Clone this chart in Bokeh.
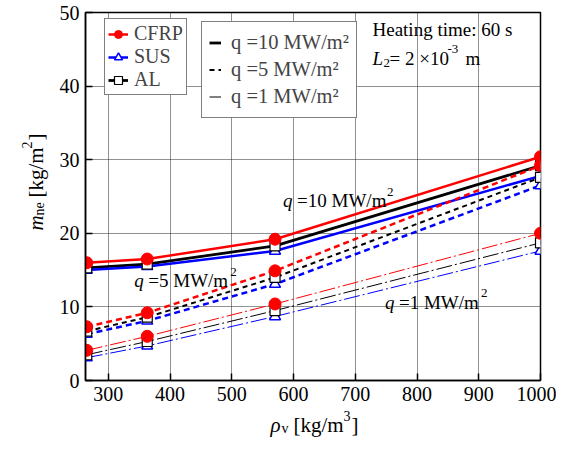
from math import pi
from bokeh.plotting import figure
from bokeh.layouts import row, column
from bokeh.models import Range1d, FixedTicker, Label, Legend, LegendItem
from bokeh.embed import file_html
from bokeh.resources import INLINE

# ---- data ----
rho_v = [265, 363, 570, 1000]
cfrp_q10 = [16.0, 16.5, 19.2, 30.4]
al_q10 = [15.3, 15.8, 18.3, 29.2]
sus_q10 = [15.0, 15.5, 17.6, 27.8]
cfrp_q5 = [7.3, 9.2, 14.9, 29.2]
al_q5 = [6.7, 8.6, 14.0, 27.6]
sus_q5 = [6.3, 8.1, 13.1, 26.5]
cfrp_q1 = [4.1, 6.0, 10.4, 20.0]
al_q1 = [3.5, 5.3, 9.5, 18.7]
sus_q1 = [3.1, 4.7, 8.7, 17.6]
x_ticks = [300, 400, 500, 600, 700, 800, 900, 1000]
y_ticks = [0, 10, 20, 30, 40, 50]

FONT = "Liberation Serif"
RED, BLUE, BLACK = "#ff0000", "#0000ff", "#000000"

MAIN_H = 410
YLAB_W = 54
p = figure(width=556 - YLAB_W, height=MAIN_H, output_backend="svg", toolbar_location=None,
           x_range=Range1d(263, 1000), y_range=Range1d(0, 50),
           min_border_left=85 - YLAB_W, min_border_right=16, min_border_top=12, min_border_bottom=30)

p.outline_line_color = "black"
p.outline_line_width = 1.5
for ax in (p.xaxis[0], p.yaxis[0]):
    ax.axis_line_width = 1.5
    ax.major_tick_in = 7
    ax.major_tick_out = 0
    ax.minor_tick_line_color = None
    ax.major_label_text_font = FONT
    ax.major_label_text_font_size = "20px"
    ax.major_label_text_color = "black"
    ax.major_label_standoff = 6
    ax.major_tick_line_width = 1.5
p.xaxis.ticker = FixedTicker(ticks=x_ticks)
p.yaxis.ticker = FixedTicker(ticks=y_ticks)
for g in (p.xgrid[0], p.ygrid[0]):
    g.grid_line_color = "#222222"
    g.grid_line_dash = "1 1"
    g.grid_line_width = 1
p.xgrid.ticker = FixedTicker(ticks=x_ticks)
p.ygrid.ticker = FixedTicker(ticks=y_ticks)

series = [
    ("q10", RED, cfrp_q10, "solid", 2.5), ("q10", BLACK, al_q10, "solid", 2.8), ("q10", BLUE, sus_q10, "solid", 2.5),
    ("q5", RED, cfrp_q5, "6 4", 2.5), ("q5", BLACK, al_q5, "5 4", 2.0), ("q5", BLUE, sus_q5, "6 4", 2.5),
    ("q1", RED, cfrp_q1, "16 3 2 3", 1.0), ("q1", BLACK, al_q1, "16 3 2 3", 1.0), ("q1", BLUE, sus_q1, "16 3 2 3", 1.0),
]
lines = {}
for q, col, ys, dash, w in series:
    lines[(q, col)] = p.line(rho_v, ys, line_color=col, line_dash=dash, line_width=w)

markers = {}
for ys in (sus_q10, sus_q5, sus_q1):
    markers[BLUE] = p.scatter(rho_v, ys, marker="triangle", size=11, fill_color="white",
                              line_color=BLUE, line_width=1.5)
for ys in (al_q10, al_q5, al_q1):
    markers[BLACK] = p.scatter(rho_v, ys, marker="square", size=10, fill_color="white",
                               line_color=BLACK, line_width=1.2)
for ys in (cfrp_q10, cfrp_q5, cfrp_q1):
    markers[RED] = p.scatter(rho_v, ys, marker="circle", size=12, fill_color=RED,
                             line_color=RED, line_width=1)

leg1 = Legend(items=[
    LegendItem(label="CFRP", renderers=[lines[("q10", RED)], markers[RED]]),
    LegendItem(label="SUS", renderers=[lines[("q10", BLUE)], markers[BLUE]]),
    LegendItem(label="AL", renderers=[lines[("q10", BLACK)], markers[BLACK]]),
], location=(19, 285), padding=3, spacing=0, margin=0, glyph_width=20, glyph_height=22,
    label_height=22, label_standoff=6, label_text_font=FONT, label_text_font_size="20px",
    border_line_color="black", border_line_width=1.5, background_fill_alpha=1)
leg2 = Legend(items=[
    LegendItem(label="q =10 MW/m²", renderers=[lines[("q10", BLACK)]]),
    LegendItem(label="q =5 MW/m²", renderers=[lines[("q5", BLACK)]]),
    LegendItem(label="q =1 MW/m²", renderers=[lines[("q1", BLACK)]]),
], location=(116, 262), padding=7, spacing=0, margin=0, glyph_width=12, glyph_height=27,
    label_height=27, label_standoff=10, label_text_font=FONT, label_text_font_size="20.5px",
    border_line_color="black", border_line_width=1.5, background_fill_alpha=1)
p.add_layout(leg1)
p.add_layout(leg2)


def lab(fig, x, y, text, size=19, style="normal", units="screen", angle=0.0, xo=0, yo=0):
    fig.add_layout(Label(x=x, y=y, x_units=units, y_units=units, text=text, text_font=FONT,
                         text_font_size=f"{size}px", text_font_style=style, angle=angle,
                         x_offset=xo, y_offset=yo, text_align="left", text_baseline="alphabetic",
                         text_color="black"))


# q annotations (anchored in data space)
LIFT = 7
for (xd, yd, num, sup_dx) in [(583, 23.5, "=10 MW/m", 104), (342, 12.6, "=5 MW/m", 96), (748, 9.7, "=1 MW/m", 96)]:
    lab(p, xd, yd, "q", style="italic", units="data", yo=LIFT)
    lab(p, xd, yd, num, units="data", xo=14, yo=LIFT)
    lab(p, xd, yd, "2", size=13, units="data", xo=sup_dx, yo=LIFT + 9)

# heating time / L2 text (frame-relative screen units)
lab(p, 287, 344 + LIFT, "Heating time: 60 s")
lab(p, 287, 315 + LIFT, "L", style="italic")
lab(p, 298, 315 + LIFT, "2", size=13, yo=-4)
lab(p, 304, 315 + LIFT, "= 2 ×10")
lab(p, 362, 315 + LIFT, "-3", size=13, yo=10)
lab(p, 380, 315 + LIFT, "m")


def blank(w, h):
    f = figure(width=w, height=h, output_backend="svg", toolbar_location=None,
               x_axis_type=None, y_axis_type=None, x_range=Range1d(0, 1), y_range=Range1d(0, 1),
               min_border=0, title=None)
    f.outline_line_color = None
    f.grid.visible = False
    return f


# y axis label panel (rotated, reads bottom to top)
ylab = blank(YLAB_W, MAIN_H)
ax_x = 42 - LIFT
lab(ylab, ax_x, 150, "m", size=21, style="italic", angle=pi / 2)
lab(ylab, ax_x + 4, 165, "ne", size=14, angle=pi / 2)
lab(ylab, ax_x, 183, "[kg/m", size=21, angle=pi / 2)
lab(ylab, ax_x - 9, 232, "2", size=14, angle=pi / 2)
lab(ylab, ax_x, 240, "]", size=21, angle=pi / 2)

# x axis label panel
xlab = blank(556, 31)
bx = 12 + LIFT - 2
lab(xlab, 270, bx, "ρ", size=21, style="italic")
lab(xlab, 281, bx - 4, "v", size=14)
lab(xlab, 293, bx, "[kg/m", size=21)
lab(xlab, 343, bx + 9, "3", size=14)
lab(xlab, 351, bx, "]", size=21)

layout = column(row(ylab, p, spacing=0), xlab, spacing=0)
open("out.html", "w").write(file_html(layout, INLINE))
